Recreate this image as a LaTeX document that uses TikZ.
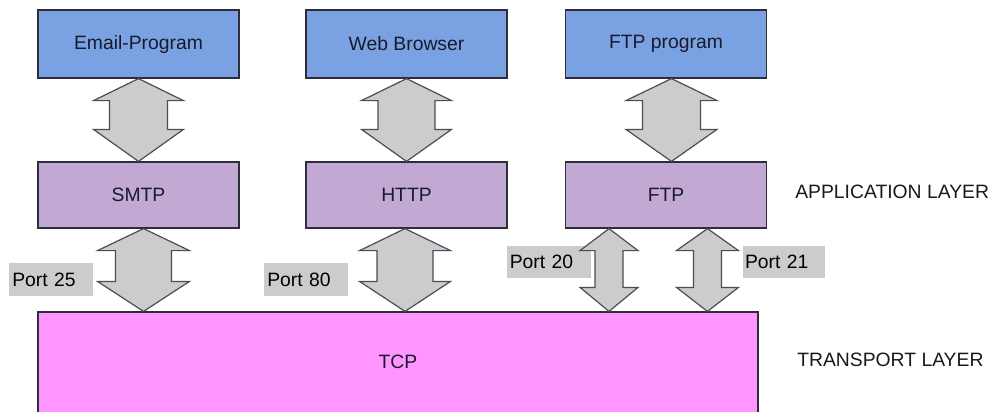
\documentclass[tikz,border=0pt]{standalone}
\usepackage{fontspec}
\setmainfont{Liberation Sans}
\usetikzlibrary{calc}
\definecolor{appblue}{RGB}{122,162,226}
\definecolor{protopurple}{RGB}{194,169,211}
\definecolor{tcppink}{RGB}{255,150,255}
\definecolor{arrgray}{RGB}{204,204,204}
\definecolor{edgedark}{RGB}{45,45,60}
\definecolor{txtdark}{RGB}{25,25,45}
\newcommand{\dblarrow}[6]{%
  \draw[dblarr] (#1) -- ++(#3,#5) -- ++(#4-#3,0) -- ($(#1 |- #2)+(#4,-#6)$) -- ++(#3-#4,0)
    -- (#1 |- #2) -- ++(-#3,-#6) -- ++(#3-#4,0) -- ($(#1)+(-#4,#5)$) -- ++(#4-#3,0) -- cycle;}
\begin{document}
\begin{tikzpicture}[x=0.75pt,y=-0.75pt,
  font=\fontsize{14.5}{17}\selectfont,
  box/.style={draw=edgedark,line width=0.9pt,minimum width=150.75pt,inner sep=0pt,text=txtdark},
  appbox/.style={box,fill=appblue,minimum height=51pt},
  protobox/.style={box,fill=protopurple,minimum height=49.5pt},
  tcpbox/.style={box,fill=tcppink,minimum width=540pt,minimum height=84pt,text depth=10pt},
  portlbl/.style={fill=arrgray,inner xsep=2.5pt,inner ysep=0pt,text width=58pt,align=left,minimum height=24.5pt,text=black},
  layerlbl/.style={anchor=west,inner sep=0pt,text=black!90},
  dblarr/.style={fill=arrgray,draw=edgedark!85,line width=0.9pt,line join=miter}]
\clip (0,0) rectangle (1002,411);
\useasboundingbox (0,0) rectangle (1002,411);
\fill[white] (0,0) rectangle (1002,411);
% boxes
\node[appbox] (email) at (138.5,44) {Email-Program};
\node[appbox] (web) at (406.5,44) {Web Browser};
\node[appbox] (ftpprog) at (666,44) {FTP program};
\node[protobox] (smtp) at (138.5,195) {SMTP};
\node[protobox] (http) at (406.5,195) {HTTP};
\node[protobox] (ftp) at (666,195) {FTP};
\node[tcpbox] (tcp) at (398,368) {TCP};
% labels
\node[portlbl] (p25) at (51,279.5) {Port 25};
\node[portlbl] (p80) at (306,279.5) {Port 80};
\node[portlbl,minimum height=24pt] (p20) at (548.5,262) {Port 20};
\node[portlbl,minimum height=24pt,inner xsep=1.5pt,text width=58.5pt] (p21) at (784,262) {Port 21};
\node[layerlbl] (applayer) at (795,192) {APPLICATION LAYER};
\node[layerlbl] (translayer) at (797,360) {TRANSPORT LAYER};
% arrow anchor points
\coordinate (t1) at (email.south);
\coordinate (t2) at (web.south);
\coordinate (t3) at ([xshift=4.1pt]ftpprog.south);
\coordinate (t4) at ([xshift=3.75pt]smtp.south);
\coordinate (t5) at ([xshift=-1.1pt]http.south);
\coordinate (t6) at ([xshift=-42.75pt]ftp.south);
\coordinate (t7) at ([xshift=31.1pt]ftp.south);
% double arrows
\dblarrow{t1}{smtp.north}{45}{29}{22}{32}
\dblarrow{t2}{http.north}{45}{28.5}{22}{32}
\dblarrow{t3}{ftp.north}{45.5}{29}{22}{32}
\dblarrow{t4}{tcp.north}{46}{28}{22}{30}
\dblarrow{t5}{tcp.north}{45.5}{28}{22}{30}
\dblarrow{t6}{tcp.north}{29}{14}{22}{24}
\dblarrow{t7}{tcp.north}{31}{14}{22}{24}
\end{tikzpicture}
\end{document}
